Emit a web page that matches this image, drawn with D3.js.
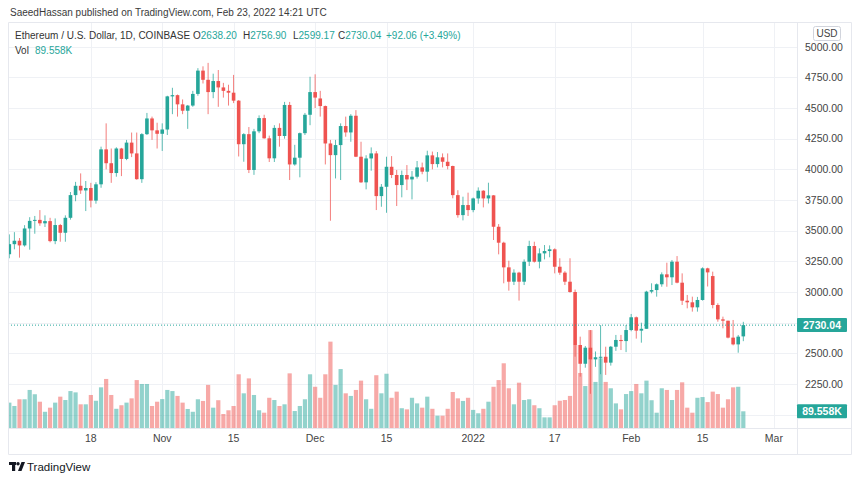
<!DOCTYPE html>
<html><head><meta charset="utf-8">
<script src="https://cdn.jsdelivr.net/npm/d3@7"></script>
<style>
html,body{margin:0;padding:0;background:#fff;}
svg{display:block;font-family:"Liberation Sans","DejaVu Sans",Arial,sans-serif;}
</style></head>
<body>
<svg id="c" width="860" height="481"></svg>
<script>
// ---------- DATA ----------
const startDate = "2021-10-02";   // first daily candle
const opens = [3308,3390,3418,3380,3518,3580,3588,3560,3578,3415,3546,3483,3605,3790,3866,3828,3848,3745,3878,4163,4050,3970,4170,4085,4218,4130,3920,4287,4415,4318,
4290,4325,4595,4605,4530,4478,4520,4615,4805,4730,4630,4720,4668,4640,4625,4560,4205,4287,3995,4310,4418,4253,4090,4338,4272,4525,4040,4095,4295,4445,
4630,4578,4516,4211,4116,4198,4353,4301,4437,4103,3894,4089,4130,3782,3858,4021,3954,3872,3954,3918,3940,4016,3981,4114,4043,4098,4062,4027,3790,3627,3709,
3668,3763,3826,3763,3788,3532,3402,3201,3084,3158,3084,3247,3375,3247,3315,3334,3348,3206,3158,3084,3000,2568,2415,2546,2451,2465,2472,2424,2554,2609,2600,
2690,2794,2685,2700,3003,3016,3063,3144,3120,3247,3076,2929,2916,2875,2935,3193,3130,2894,2777,2766,2628,2573,2638.20];
const highs = [3470,3488,3440,3545,3610,3620,3668,3625,3605,3600,3555,3625,3815,3898,3967,3905,3890,3895,4185,4375,4170,4180,4175,4240,4300,4300,4295,4460,4430,4380,
4375,4600,4665,4610,4570,4525,4640,4825,4840,4868,4780,4810,4705,4690,4770,4565,4295,4345,4330,4440,4445,4275,4360,4375,4550,4550,4200,4300,4460,4755,
4775,4640,4520,4240,4240,4375,4430,4450,4483,4225,4115,4179,4149,3880,4103,4108,3995,3990,4035,3986,4068,4055,4152,4145,4141,4130,4130,4030,3830,3777,3810,
3770,3853,3830,3891,3790,3554,3410,3255,3185,3165,3266,3418,3410,3356,3383,3380,3356,3275,3170,3275,3020,2636,2560,2690,2515,2730,2554,2560,2650,2650,
2731,2821,2800,2750,3010,3071,3070,3160,3239,3261,3293,3152,2976,2962,2960,3201,3198,3166,2908,2799,2766,2772,2650,2756.90];
const lows = [3275,3348,3280,3370,3345,3475,3540,3530,3405,3390,3410,3410,3590,3740,3800,3660,3690,3720,3850,4000,3890,3940,3945,4075,4100,3915,3890,4280,4240,4170,
4150,4280,4450,4430,4450,4330,4510,4600,4700,4450,4580,4510,4585,4520,4540,4105,4062,3970,3955,4295,4250,4060,4060,4185,4250,3913,4030,3935,4280,4360,
4500,4430,4040,3581,3926,3913,4266,4225,4100,3890,3837,3989,3668,3695,3646,3929,3701,3772,3831,3755,3925,3960,3899,4000,4016,4016,4000,3764,3606,3584,3620,
3650,3720,3690,3722,3424,3307,3071,3011,3057,2930,3057,3212,3240,3193,3266,3283,3152,3140,3057,2995,2473,2310,2383,2170,2390,2330,2324,2400,2520,2527,
2510,2680,2620,2587,2700,2989,2962,3043,3043,3057,3071,2894,2867,2840,2840,2930,3045,2867,2758,2704,2622,2565,2505,2599.17];
const closes = [3390,3418,3380,3518,3580,3588,3560,3578,3415,3546,3483,3605,3790,3866,3828,3848,3745,3878,4163,4050,3970,4170,4085,4218,4130,3920,4287,4415,4318,4290,
4325,4595,4605,4530,4478,4520,4615,4805,4730,4630,4720,4668,4640,4625,4560,4205,4287,3995,4310,4418,4253,4090,4338,4272,4525,4040,4095,4295,4445,4630,
4585,4516,4211,4116,4198,4353,4301,4437,4103,3894,4089,4130,3782,3858,4021,3954,3872,3954,3918,3940,4016,3981,4114,4043,4098,4062,4027,3790,3627,3709,3668,
3763,3826,3763,3788,3532,3402,3201,3084,3158,3084,3247,3375,3247,3315,3334,3348,3206,3158,3084,3000,2568,2415,2546,2451,2468,2472,2424,2554,2609,2600,2690,
2794,2685,2700,3003,3016,3063,3144,3120,3247,3076,2929,2916,2875,2935,3193,3160,2894,2777,2766,2628,2573,2636,2730.04];
// volume in thousands
const volumes = [136,118,154,154,204,181,141,87,109,136,168,150,198,191,127,127,177,146,218,263,177,103,122,136,159,257,236,236,118,141,
155,204,198,172,136,102,87,154,145,231,109,149,75,95,118,288,186,266,177,95,82,162,150,118,127,293,91,118,154,288,
221,162,288,463,231,316,186,172,204,254,154,103,283,186,291,162,195,106,100,162,132,109,168,103,66,66,103,193,159,145,162,
97,79,103,141,221,257,347,213,127,243,150,154,122,106,57,57,122,146,150,172,445,295,225,525,247,374,247,213,132,100,182,
198,236,186,254,149,82,213,204,150,204,245,109,82,162,166,139,195,182,109,154,218,221,89.558];
const priceTicks = [2250,2500,3000,3250,3500,3750,4000,4250,4500,4750,5000];
const priceTickLabels = ["2250.00","2500.00","3000.00","3250.00","3500.00","3750.00","4000.00","4250.00","4500.00","4750.00","5000.00"];
const gridPrices = [2000,2250,2500,2750,3000,3250,3500,3750,4000,4250,4500,4750,5000];
const timeTicks = ["2021-10-18","2021-11-01","2021-11-15","2021-12-01","2021-12-15","2022-01-01","2022-01-17","2022-02-01","2022-02-15","2022-03-01"];
const timeTickLabels = ["18","Nov","15","Dec","15","2022","17","Feb","15","Mar"];
const lastPrice = 2730.04, lastVolLabel = "89.558K", changeLabel = "+92.06 (+3.49%)";

// ---------- LAYOUT ----------
const UP="#26a69a", DN="#ef5350";
const plotL=8, plotR=797, plotT=22, plotB=428, axisB=455, frameR=852;
const parse = d3.utcParse("%Y-%m-%d");
const dates = d3.utcDay.range(parse(startDate), d3.utcDay.offset(parse(startDate), closes.length));
const x = d3.scaleUtc().domain([parse("2021-10-02"), parse("2022-03-01")]).range([9.3, 773.9]);
const y = d3.scaleLinear().domain([2250,5000]).range([384,46.7]);
const vy = d3.scaleLinear().domain([0,500]).range([plotB, plotB-93.25]);
const data = dates.map((d,i)=>({d,o:opens[i],h:highs[i],l:lows[i],c:closes[i],v:volumes[i]}));

const svg = d3.select("#c");
svg.append("text").attr("x",10).attr("y",16).attr("font-size",10).attr("fill","#3a3a3a")
  .text("SaeedHassan published on TradingView.com, Feb 23, 2022 14:21 UTC");

svg.append("defs").append("clipPath").attr("id","pc").append("rect")
  .attr("x",plotL).attr("y",plotT).attr("width",plotR-plotL).attr("height",plotB-plotT);

// grid
const g = svg.append("g");
g.selectAll("line.h").data(gridPrices).join("line")
  .attr("x1",plotL).attr("x2",plotR).attr("y1",d=>Math.round(y(d))+0.5).attr("y2",d=>Math.round(y(d))+0.5)
  .attr("stroke","#eff1f5").attr("stroke-width",1);
g.selectAll("line.v").data(timeTicks).join("line")
  .attr("x1",d=>Math.round(x(parse(d)))+0.5).attr("x2",d=>Math.round(x(parse(d)))+0.5)
  .attr("y1",plotT).attr("y2",plotB).attr("stroke","#eff1f5").attr("stroke-width",1);

const pg = svg.append("g").attr("clip-path","url(#pc)");
// volume
pg.selectAll("rect.vol").data(data).join("rect")
  .attr("x",d=>x(d.d)-2.1).attr("width",4.2)
  .attr("y",d=>vy(d.v)).attr("height",d=>plotB-vy(d.v))
  .attr("fill",d=>d.c>=d.o?"rgba(38,166,154,0.5)":"rgba(239,83,80,0.5)");
// wicks
pg.selectAll("line.wick").data(data).join("line")
  .attr("x1",d=>x(d.d)).attr("x2",d=>x(d.d)).attr("y1",d=>y(d.h)).attr("y2",d=>y(d.l))
  .attr("stroke",d=>d.c>=d.o?UP:DN).attr("stroke-opacity",0.75).attr("stroke-width",1);
// bodies
pg.selectAll("rect.body").data(data).join("rect")
  .attr("x",d=>x(d.d)-1.8).attr("width",3.6)
  .attr("y",d=>y(Math.max(d.o,d.c))).attr("height",d=>Math.max(1,Math.abs(y(d.o)-y(d.c))))
  .attr("fill",d=>d.c>=d.o?UP:DN);
// last price dotted line
pg.append("line").attr("x1",plotL).attr("x2",plotR).attr("y1",y(lastPrice)).attr("y2",y(lastPrice))
  .attr("stroke",UP).attr("stroke-width",1).attr("stroke-dasharray","1,2");

// frame
svg.append("path").attr("d",`M${plotL+0.5},${plotT+0.5}H${frameR-0.5}V${axisB-0.5}H${plotL+0.5}Z`)
  .attr("fill","none").attr("stroke","#e6e8ee");
svg.append("line").attr("x1",plotR+0.5).attr("x2",plotR+0.5).attr("y1",plotT).attr("y2",axisB).attr("stroke","#e6e8ee");
svg.append("line").attr("x1",plotL).attr("x2",frameR).attr("y1",plotB+0.5).attr("y2",plotB+0.5).attr("stroke","#e6e8ee");

// price axis
const ay = svg.append("g");
ay.selectAll("text").data(priceTicks).join("text")
  .attr("x",805).attr("y",d=>y(d)+3.8).attr("font-size",10.5).attr("fill","#444")
  .text((d,i)=>priceTickLabels[i]);
function badge(yc, txt){
  ay.append("rect").attr("x",plotR).attr("y",yc-7).attr("width",50).attr("height",14).attr("rx",1).attr("fill",UP);
  ay.append("text").attr("x",plotR+25).attr("y",yc+3.8).attr("text-anchor","middle").attr("font-size",10.5)
    .attr("font-weight","bold").attr("fill","#fff").text(txt);
}
badge(y(lastPrice), d3.format(".2f")(lastPrice));
badge(vy(volumes[volumes.length-1]), lastVolLabel);
ay.append("rect").attr("x",813.5).attr("y",26.5).attr("width",27).attr("height",14).attr("rx",2)
  .attr("fill","#fff").attr("stroke","#d1d4dc");
ay.append("text").attr("x",827).attr("y",37).attr("text-anchor","middle").attr("font-size",10).attr("fill","#444").text("USD");

// time axis
svg.append("g").selectAll("text").data(timeTicks).join("text")
  .attr("x",d=>x(parse(d))).attr("y",442).attr("text-anchor","middle").attr("font-size",10.5).attr("fill","#444")
  .text((d,i)=>timeTickLabels[i]);

// legend
const f2 = d3.format(".2f");
const legendParts = [
  {x:15, t:"Ethereum / U.S. Dollar, 1D, COINBASE", c:"#333"},
  {x:193, t:"O", c:"#333"}, {t:f2(opens[opens.length-1]), c:UP},
  {x:243, t:"H", c:"#333"}, {t:f2(highs[highs.length-1]), c:UP},
  {x:293, t:"L", c:"#333"}, {t:f2(lows[lows.length-1]), c:UP},
  {x:338, t:"C", c:"#333"}, {t:f2(lastPrice), c:UP},
  {x:386, t:changeLabel, c:UP}
];
const l1 = svg.append("text").attr("y",39).attr("font-size",10);
legendParts.forEach(p=>{ const s=l1.append("tspan").attr("fill",p.c).text(p.t); if(p.x!==undefined) s.attr("x",p.x); });
const l2 = svg.append("text").attr("y",54).attr("font-size",10);
l2.append("tspan").attr("x",15).attr("fill","#333").text("Vol");
l2.append("tspan").attr("x",35).attr("fill",UP).text(lastVolLabel);

// TradingView logo
const lg = svg.append("g").attr("fill","#131722");
lg.append("rect").attr("x",9).attr("y",462).attr("width",7).attr("height",3);
lg.append("rect").attr("x",12).attr("y",462).attr("width",3.2).attr("height",9);
lg.append("circle").attr("cx",18).attr("cy",463.7).attr("r",1.7);
lg.append("path").attr("d","M21.5,462H25L21.5,471H18Z");
svg.append("text").attr("x",27).attr("y",470.5).attr("font-size",11.5).attr("fill","#131722").text("TradingView");
</script>
</body></html>
